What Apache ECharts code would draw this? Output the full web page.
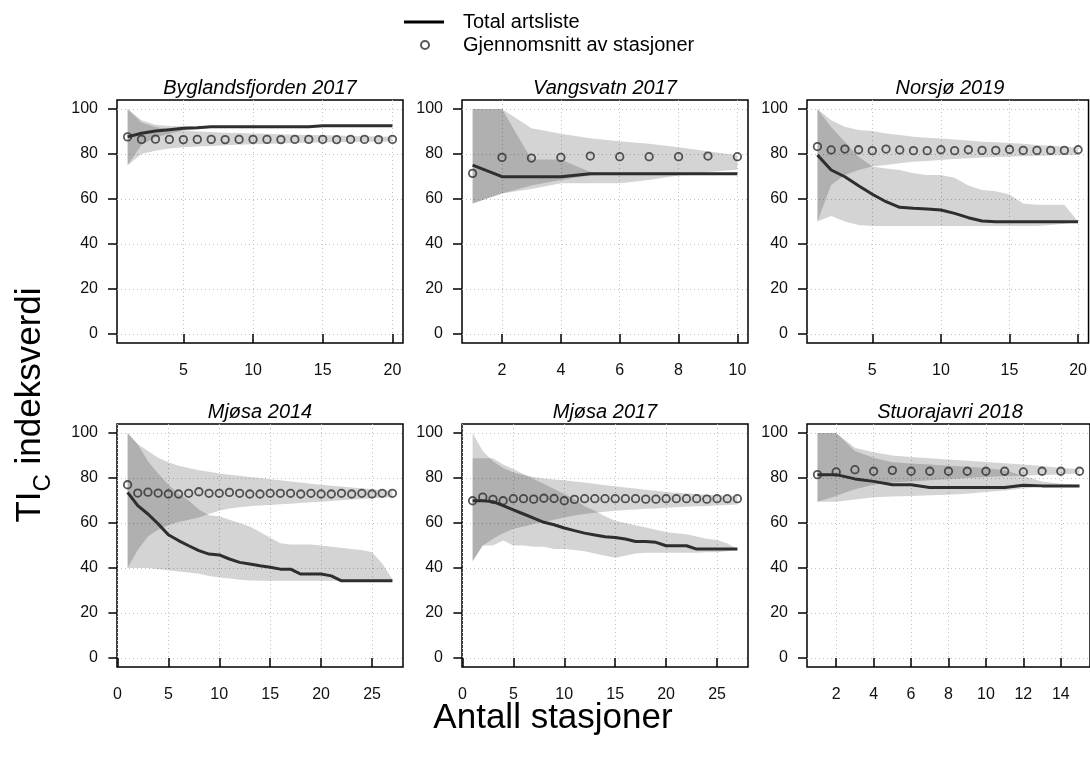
<!DOCTYPE html>
<html><head><meta charset="utf-8">
<script src="https://cdn.jsdelivr.net/npm/echarts@6/dist/echarts.min.js"></script>
<style>html,body{margin:0;padding:0;background:#fff}#c{width:1090px;height:758px}</style>
</head><body><div id="c"></div>
<script>
// ---------------- DATA ----------------
const titles = ['Byglandsfjorden 2017', 'Vangsvatn 2017', 'Norsjø 2019', 'Mjøsa 2014', 'Mjøsa 2017', 'Stuorajavri 2018'];
const yTicks = [0, 20, 40, 60, 80, 100];
const xTicks1 = [5, 10, 15, 20];
const xTicks2 = [2, 4, 6, 8, 10];
const xTicks3 = [5, 10, 15, 20];
const xTicks4 = [0, 5, 10, 15, 20, 25];
const xTicks5 = [0, 5, 10, 15, 20, 25];
const xTicks6 = [2, 4, 6, 8, 10, 12, 14];

// Byglandsfjorden 2017
const line1   = [87.6, 89.2, 90.2, 90.8, 91.4, 91.7, 92.1, 92.1, 92.1, 92.1, 92.1, 92.1, 92.1, 92.1, 92.6, 92.6, 92.6, 92.6, 92.6, 92.6];
const mean1   = [87.6, 86.5, 86.6, 86.5, 86.4, 86.5, 86.5, 86.4, 86.5, 86.5, 86.5, 86.4, 86.5, 86.5, 86.5, 86.4, 86.5, 86.5, 86.4, 86.5];
const lineLo1 = [75, 84, 87.5, 89, 90.3, 91, 91.8, 91.8, 91.8, 91.8, 91.8, 91.8, 91.8, 91.8, 92.3, 92.3, 92.3, 92.3, 92.3, 92.3];
const lineHi1 = [100, 95, 93, 92.5, 92.3, 92.2, 92.4, 92.4, 92.4, 92.4, 92.4, 92.4, 92.4, 92.4, 92.9, 92.9, 92.9, 92.9, 92.9, 92.9];
const meanLo1 = [75, 80, 81.5, 82.5, 83, 83.3, 83.6, 83.9, 84.1, 84.3, 84.5, 84.7, 84.9, 85.0, 85.1, 85.2, 85.3, 85.4, 85.5, 85.6];
const meanHi1 = [100, 94, 92, 91, 90.5, 90, 89.8, 89.5, 89.3, 89.1, 89, 88.8, 88.6, 88.4, 88.3, 88.2, 88, 87.9, 87.8, 87.7];

// Vangsvatn 2017
const line2   = [75.1, 69.9, 69.9, 69.9, 71.2, 71.2, 71.2, 71.2, 71.2, 71.2];
const mean2   = [71.4, 78.5, 78.2, 78.5, 79.1, 78.8, 78.8, 78.8, 79.1, 78.8];
const lineLo2 = [58, 62.5, 66, 68.5, 70.5, 71, 71, 71, 71, 71];
const lineHi2 = [100, 100, 77.6, 77.6, 72, 71.5, 71.5, 71.5, 71.5, 71.5];
const meanLo2 = [58, 62.5, 64.5, 67, 67, 67, 68.5, 70.5, 72, 73];
const meanHi2 = [100, 100, 91.4, 89, 87, 85.7, 84.6, 83, 81.2, 79.4];

// Norsjø 2019
const line3   = [79.6, 72.9, 69.9, 65.9, 62.1, 58.8, 56.3, 55.9, 55.6, 55.1, 53.6, 51.7, 50.2, 49.9, 49.9, 49.9, 49.9, 49.9, 49.9, 49.9];
const mean3   = [83.3, 81.8, 82.2, 81.9, 81.5, 82.2, 81.8, 81.5, 81.5, 81.9, 81.5, 81.9, 81.6, 81.6, 82.0, 81.6, 81.6, 81.6, 81.6, 81.9];
const lineLo3 = [50, 52.5, 50, 48.5, 48, 48, 48, 48, 48, 48, 48, 48, 48, 48, 48, 48, 48, 48.5, 49, 49.9];
const lineHi3 = [100, 92, 85.5, 78.8, 74.4, 73.6, 72.9, 71.4, 70.7, 70.7, 69.5, 66, 64, 63.5, 62, 58, 57.5, 57.5, 57.5, 49.9];
const meanLo3 = [50, 66.2, 70.7, 72.9, 74.4, 75.1, 75.9, 76.6, 76.9, 77.3, 77.8, 78.1, 78.4, 78.7, 78.8, 79.0, 79.1, 79.3, 79.4, 79.6];
const meanHi3 = [100, 95, 92.1, 90.7, 90.2, 89.1, 88.4, 87.7, 87.2, 86.9, 86.5, 86, 85.5, 85.2, 84.9, 84.6, 84, 83.7, 83.3, 82.8];

// Mjøsa 2014
const line4   = [73.6, 67.7, 64, 59.6, 54.8, 52.2, 49.9, 47.7, 46.2, 45.8, 44.0, 42.5, 41.8, 41.0, 40.3, 39.5, 39.5, 37.3, 37.3, 37.3, 36.5, 34.3, 34.3, 34.3, 34.3, 34.3, 34.3];
const mean4   = [77.0, 73.3, 73.7, 73.3, 72.9, 72.9, 73.2, 73.9, 73.2, 73.2, 73.6, 73.2, 72.9, 72.9, 73.2, 73.2, 73.2, 72.9, 73.2, 72.9, 72.9, 73.2, 72.9, 73.2, 72.9, 73.2, 73.2];
const lineLo4 = [40, 40, 40, 39.5, 39, 38.5, 38, 37.5, 36.5, 35.8, 35.3, 34.8, 34.5, 34.3, 34.3, 34.3, 34.3, 34.3, 34.3, 34.3, 34.3, 34.3, 34.3, 34.3, 34.3, 34.3, 34.3];
const lineHi4 = [100, 95, 87.5, 82, 77, 73, 70, 66, 63.5, 63, 61.5, 60, 58.5, 56, 53.5, 51, 50.5, 50.4, 50.4, 50, 49.5, 49, 48.5, 48, 47, 42, 35];
const meanLo4 = [40, 48, 54, 57, 59, 60.5, 61.5, 62.5, 64, 65.5, 66.5, 67, 67.5, 67.8, 68, 68.3, 68.6, 68.9, 69.2, 69.5, 69.8, 70.1, 70.4, 70.7, 71, 71.3, 71.5];
const meanHi4 = [100, 95, 92, 89, 87, 85.5, 84.5, 83.5, 82.8, 82, 81.5, 81, 80.5, 80, 79.5, 79, 78.5, 78, 77.5, 77, 76.6, 76.2, 75.8, 75.4, 75, 74.7, 74.3];

// Mjøsa 2017
const line5   = [69.9, 69.9, 69.5, 67.7, 65.8, 64.0, 62.2, 60.3, 59.2, 57.8, 56.6, 55.5, 54.7, 53.9, 53.6, 52.9, 51.8, 51.8, 51.4, 49.9, 49.9, 49.9, 48.4, 48.4, 48.4, 48.4, 48.4];
const mean5   = [69.9, 71.5, 70.5, 69.9, 70.8, 70.8, 70.6, 71.0, 70.9, 69.9, 70.5, 70.8, 70.8, 70.8, 70.8, 70.8, 70.8, 70.6, 70.6, 70.8, 70.8, 70.8, 70.8, 70.6, 70.8, 70.8, 70.8];
const lineLo5 = [43, 50, 50, 52.2, 50, 50, 49.5, 49.5, 48.5, 48.4, 48, 47.5, 46.5, 45.5, 44.6, 45.5, 46.5, 46.8, 46.8, 46.8, 46.8, 46.8, 46.8, 47, 47, 47.5, 48];
const lineHi5 = [88.8, 88.8, 88.8, 86, 84, 81.8, 79.6, 77.4, 75.1, 72.9, 70.7, 67.5, 65.5, 63, 61, 60, 59, 58, 57, 56, 55.5, 55, 54, 53, 52.5, 51, 48.4];
const meanLo5 = [43, 50, 53, 55.5, 57.5, 58.5, 59.6, 60.5, 61.5, 62.5, 63.3, 64, 64.6, 65, 65.5, 65.8, 66, 66.3, 66.5, 66.8, 67, 67.2, 67.4, 67.6, 67.8, 68, 68.2];
const meanHi5 = [100, 92, 87.5, 84.5, 82.5, 81.3, 80.5, 79.8, 79.3, 79, 78.5, 78, 77.4, 76.8, 76.3, 75.8, 75.3, 74.8, 74.3, 73.8, 73.5, 73.2, 72.9, 72.6, 72.3, 72.1, 72];

// Stuorajavri 2018
const line6   = [81.5, 81.5, 79.6, 78.5, 77, 77, 75.8, 75.8, 75.8, 75.8, 75.8, 76.8, 76.5, 76.5, 76.5];
const mean6   = [81.5, 82.7, 83.7, 83.0, 83.4, 83.0, 83.0, 83.0, 83.0, 83.0, 83.0, 82.7, 83.0, 83.0, 83.0];
const lineLo6 = [69.5, 69.5, 70.5, 71.5, 71.8, 72, 72.3, 72.6, 73, 73.8, 74.5, 75.3, 76, 76.3, 76.5];
const lineHi6 = [100, 100, 92, 89, 87, 86.5, 86, 85.5, 85, 84.5, 83.5, 81, 78.5, 77.5, 77];
const meanLo6 = [69.5, 72, 75, 77, 78, 78.5, 79, 79.5, 80, 80.5, 80.8, 81, 81.3, 81.6, 82];
const meanHi6 = [100, 100, 93.5, 91.5, 90, 89.3, 88.8, 88.2, 87.7, 87.1, 86.6, 86, 85.3, 84.5, 84];

const legendLine = 'Total artsliste';
const legendMean = 'Gjennomsnitt av stasjoner';
const xTitle = 'Antall stasjoner';

// ---------------- BUILD ----------------
const panels = [
  {line: line1, mean: mean1, lLo: lineLo1, lHi: lineHi1, mLo: meanLo1, mHi: meanHi1, ticks: xTicks1},
  {line: line2, mean: mean2, lLo: lineLo2, lHi: lineHi2, mLo: meanLo2, mHi: meanHi2, ticks: xTicks2},
  {line: line3, mean: mean3, lLo: lineLo3, lHi: lineHi3, mLo: meanLo3, mHi: meanHi3, ticks: xTicks3},
  {line: line4, mean: mean4, lLo: lineLo4, lHi: lineHi4, mLo: meanLo4, mHi: meanHi4, ticks: xTicks4},
  {line: line5, mean: mean5, lLo: lineLo5, lHi: lineHi5, mLo: meanLo5, mHi: meanHi5, ticks: xTicks5},
  {line: line6, mean: mean6, lLo: lineLo6, lHi: lineHi6, mLo: meanLo6, mHi: meanHi6, ticks: xTicks6}
];

const FONT = 'Liberation Sans, Arial, sans-serif';
const colLeft = [117, 462, 807];
const rowTop = [100, 424];
const gridW = 286, gridH = 243;
const bandColor = 'rgba(0,0,0,0.17)';

const pairs = arr => arr.map((v, k) => [k + 1, v]);

function bandSeries(i, lo, hi) {
  const rows = lo.map((v, k) => [k + 1, v, hi[k]]);
  return {
    type: 'custom', xAxisIndex: i, yAxisIndex: i, silent: true, z: 1, clip: true, animation: false,
    data: rows, encode: {x: 0, y: [1, 2]},
    renderItem: function (params, api) {
      if (params.dataIndex !== 0) return null;
      const upper = rows.map(r => api.coord([r[0], r[2]]));
      const lower = rows.map(r => api.coord([r[0], r[1]])).reverse();
      return {type: 'polygon', shape: {points: upper.concat(lower)}, style: {fill: bandColor}};
    }
  };
}

const grids = [], xAxes = [], yAxes = [], series = [], graphics = [];
panels.forEach((p, i) => {
  const n = p.line.length;
  const left = colLeft[i % 3], top = rowTop[Math.floor(i / 3)];
  grids.push({left: left, top: top, width: gridW, height: gridH, show: true,
    borderColor: '#000', borderWidth: 1.5, backgroundColor: 'transparent', containLabel: false});
  const ext = 0.04 * (n - 1);
  xAxes.push({type: 'value', gridIndex: i, min: 1 - ext, max: n + ext,
    axisLine: {show: false},
    axisTick: {show: true, length: 9, lineStyle: {color: '#000', width: 1.5}, customValues: p.ticks},
    axisLabel: {show: true, customValues: p.ticks, margin: 20, fontSize: 16, color: '#111', fontFamily: FONT},
    splitLine: {show: true, lineStyle: {color: '#c0c0c0', width: 1, type: [1, 3]}}
  });
  yAxes.push({type: 'value', gridIndex: i, min: -4, max: 104,
    axisLine: {show: false},
    axisTick: {show: true, length: 9, lineStyle: {color: '#000', width: 1.5}, customValues: yTicks},
    axisLabel: {show: true, customValues: yTicks, margin: 19, fontSize: 16, color: '#111', fontFamily: FONT},
    splitLine: {show: true, lineStyle: {color: '#c0c0c0', width: 1, type: [1, 3]}}
  });
  series.push(bandSeries(i, p.lLo, p.lHi));
  series.push(bandSeries(i, p.mLo, p.mHi));
  series.push({type: 'line', name: legendLine, xAxisIndex: i, yAxisIndex: i, data: pairs(p.line), symbol: 'none', silent: true,
    lineStyle: {color: '#2e2e2e', width: 3}, itemStyle: {color: '#000'}, z: 3});
  series.push({type: 'scatter', name: legendMean, xAxisIndex: i, yAxisIndex: i, data: pairs(p.mean), symbol: 'circle', symbolSize: 7.5, silent: true,
    itemStyle: {color: 'rgba(0,0,0,0)', borderColor: '#2e2e2e', borderWidth: 1.8}, z: 4});
  graphics.push({type: 'text', x: left + gridW / 2, y: top - 12,
    style: {text: titles[i], font: 'italic 20px ' + FONT, fill: '#000', align: 'center', verticalAlign: 'middle'}});
});

// y-axis title with subscript (rotated)
const ctx = document.createElement('canvas').getContext('2d');
const mainFont = '35px ' + FONT, subFont = '24px ' + FONT;
ctx.font = mainFont; const wTI = ctx.measureText('TI').width; const wRest = ctx.measureText(' indeksverdi').width;
ctx.font = subFont; const wC = ctx.measureText('C').width;
const L = wTI + wC + wRest;
graphics.push({type: 'group', x: 30, y: 405, rotation: Math.PI / 2, children: [
  {type: 'text', x: -L / 2, y: 18, style: {text: 'TI', font: mainFont, fill: '#000', align: 'left', verticalAlign: 'bottom'}},
  {type: 'text', x: -L / 2 + wTI, y: 25, style: {text: 'C', font: subFont, fill: '#000', align: 'left', verticalAlign: 'bottom'}},
  {type: 'text', x: -L / 2 + wTI + wC, y: 18, style: {text: ' indeksverdi', font: mainFont, fill: '#000', align: 'left', verticalAlign: 'bottom'}}
]});
graphics.push({type: 'text', x: 553, y: 718, style: {text: xTitle, font: mainFont, fill: '#000', align: 'center', verticalAlign: 'middle'}});

const option = {
  animation: false,
  backgroundColor: '#fff',
  textStyle: {fontFamily: FONT},
  grid: grids, xAxis: xAxes, yAxis: yAxes, series: series, graphic: graphics,
  legend: [
    {data: [{name: legendLine, icon: 'rect'}], left: 404, top: 11, padding: 0, itemWidth: 40, itemHeight: 3, selectedMode: false,
     textStyle: {fontSize: 20, color: '#000', fontFamily: FONT, lineHeight: 22, padding: [0, 0, 0, 14]}},
    {data: [{name: legendMean, icon: 'circle'}], left: 420, top: 34, padding: 0, itemWidth: 8, itemHeight: 8, selectedMode: false,
     textStyle: {fontSize: 20, color: '#000', fontFamily: FONT, lineHeight: 22, padding: [0, 0, 0, 29]}}
  ]
};
const chart = echarts.init(document.getElementById('c'), null, {renderer: 'canvas'});
chart.setOption(option);
</script></body></html>
